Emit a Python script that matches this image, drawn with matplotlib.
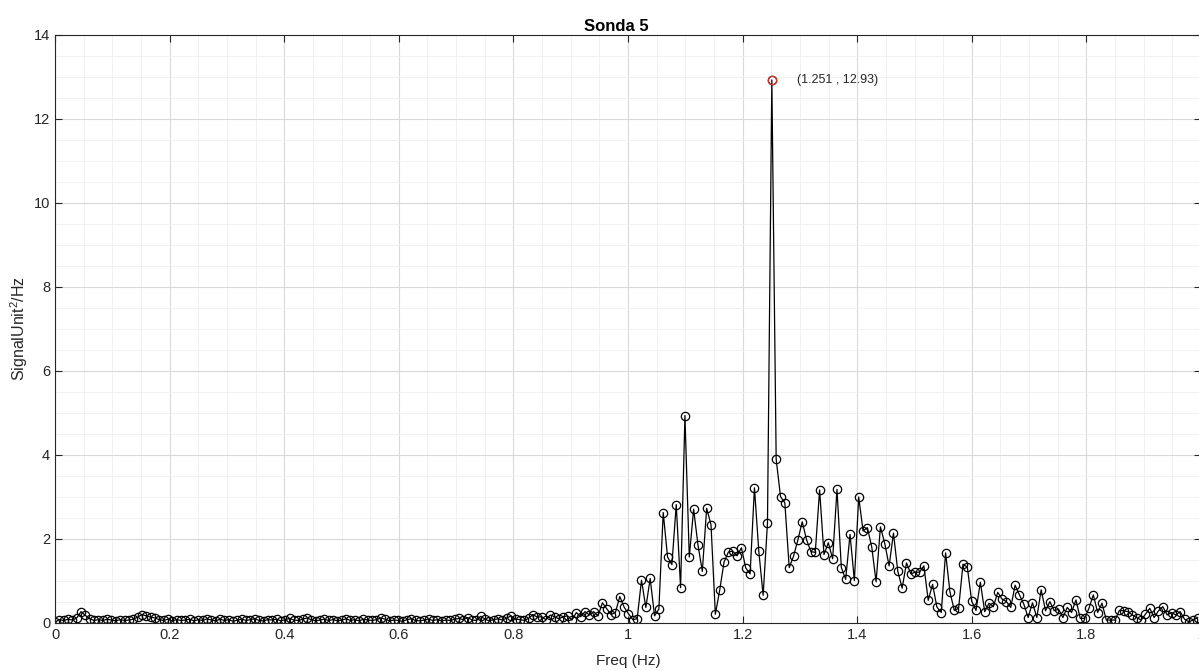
"""Sonda 5 power spectrum, MATLAB-style periodogram look (grid on, open circle markers)."""
import numpy as np
import matplotlib
matplotlib.use("Agg")
import matplotlib.pyplot as plt
from matplotlib.ticker import MultipleLocator, FuncFormatter

plt.rcParams["font.family"] = ["Liberation Sans", "DejaVu Sans"]
plt.rcParams["mathtext.default"] = "regular"

# frequency resolution of the spectrum (peak bin 165 sits at 1.251 Hz)
DF = 1.251 / 165
PEAK_F, PEAK_P = 1.251, 12.93

# PSD values read bin by bin off the reference [SignalUnit^2/Hz]
PSD_LOW = [  # bins 0-125, 0 .. ~0.95 Hz
    0.02, 0.08, 0.06, 0.09, 0.07, 0.12, 0.27, 0.18, 0.10, 0.06,
    0.08, 0.06, 0.09, 0.07, 0.05, 0.08, 0.06, 0.07, 0.09, 0.14,
    0.20, 0.17, 0.14, 0.12, 0.08, 0.06, 0.09, 0.05, 0.08, 0.06,
    0.07, 0.09, 0.05, 0.08, 0.06, 0.10, 0.07, 0.05, 0.09, 0.06,
    0.08, 0.04, 0.07, 0.09, 0.06, 0.08, 0.10, 0.06, 0.05, 0.08,
    0.07, 0.09, 0.05, 0.08, 0.11, 0.07, 0.06, 0.09, 0.12, 0.08,
    0.05, 0.07, 0.09, 0.06, 0.08, 0.05, 0.07, 0.10, 0.06, 0.08,
    0.05, 0.09, 0.07, 0.06, 0.08, 0.12, 0.09, 0.05, 0.07, 0.06,
    0.04, 0.08, 0.10, 0.06, 0.05, 0.07, 0.09, 0.06, 0.08, 0.05,
    0.07, 0.06, 0.09, 0.11, 0.08, 0.13, 0.07, 0.06, 0.16, 0.09,
    0.05, 0.08, 0.10, 0.07, 0.12, 0.17, 0.09, 0.08, 0.06, 0.11,
    0.20, 0.14, 0.15, 0.08, 0.19, 0.15, 0.10, 0.15, 0.17, 0.07,
    0.25, 0.15, 0.27, 0.19, 0.27, 0.17,
]
PSD_MID = [  # bins 126-165, up to the main peak
    0.48, 0.34, 0.20, 0.25, 0.63, 0.38, 0.22, 0.08, 0.10, 1.02,
    0.37, 1.06, 0.17, 0.33, 2.63, 1.57, 1.39, 2.82, 0.84, 4.94,
    1.57, 2.71, 1.86, 1.23, 2.73, 2.34, 0.21, 0.78, 1.45, 1.69,
    1.71, 1.60, 1.79, 1.31, 1.17, 3.22, 1.71, 0.66, 2.38, 12.93,
]
PSD_HIGH = [  # bins 166-213
    3.90, 3.01, 2.86, 1.32, 1.59, 1.98, 2.41, 1.98, 1.70, 1.68,
    3.17, 1.63, 1.91, 1.53, 3.18, 1.32, 1.04, 2.11, 1.01, 3.00,
    2.19, 2.27, 1.81, 0.98, 2.29, 1.89, 1.36, 2.14, 1.23, 0.83,
    1.43, 1.17, 1.21, 1.21, 1.36, 0.54, 0.92, 0.38, 0.25, 1.67,
    0.74, 0.30, 0.35, 1.40, 1.33, 0.52, 0.30, 0.97,
]
PSD_TAIL = [  # bins 214-263, up to 2 Hz
    0.27, 0.47, 0.39, 0.73, 0.57, 0.51, 0.37, 0.90, 0.67, 0.45,
    0.13, 0.48, 0.13, 0.79, 0.29, 0.51, 0.29, 0.33, 0.13, 0.37,
    0.25, 0.55, 0.11, 0.11, 0.35, 0.67, 0.25, 0.47, 0.07, 0.07,
    0.07, 0.30, 0.29, 0.27, 0.19, 0.13, 0.07, 0.21, 0.35, 0.13,
    0.29, 0.39, 0.19, 0.25, 0.19, 0.27, 0.09, 0.03, 0.07, 0.13,
]

INK = "#262626"


def main():
    psd = np.array(PSD_LOW + PSD_MID + PSD_HIGH + PSD_TAIL)
    freq = np.arange(len(psd)) * DF

    fig = plt.figure(figsize=(11.99, 6.70), dpi=100)
    ax = fig.add_axes([55 / 1199, 47 / 670, 1146 / 1199, 588 / 670])   # right edge just past the canvas

    ax.plot(freq, psd, "-o", color="black", lw=0.9, ms=6, mfc="none", mew=0.9)
    ax.plot([PEAK_F], [PEAK_P], "o", color="#e0302e", ms=6, mfc="none", mew=0.9)
    ax.text(PEAK_F + 0.044, PEAK_P, "(1.251 , 12.93)", fontsize=9, color=INK, va="center")

    ax.set_xlim(0, 2); ax.set_ylim(0, 14)
    ax.xaxis.set_major_locator(MultipleLocator(0.2)); ax.xaxis.set_minor_locator(MultipleLocator(0.05))
    ax.yaxis.set_major_locator(MultipleLocator(2)); ax.yaxis.set_minor_locator(MultipleLocator(0.5))
    ax.xaxis.set_major_formatter(FuncFormatter(lambda v, _: f"{v:g}"))
    ax.grid(which="major", color="#d9d9d9", lw=0.8)
    ax.grid(which="minor", color="#efefef", lw=0.6)
    ax.set_axisbelow(True)
    ax.tick_params(which="major", direction="in", length=5, width=0.8, top=True, right=True,
                   labelsize=10.5, colors=INK)
    ax.tick_params(which="minor", length=0)
    for sp in ax.spines.values():
        sp.set_color(INK); sp.set_linewidth(0.8)

    ax.set_xlabel("Freq (Hz)", fontsize=11, color=INK, labelpad=9)
    ax.set_ylabel("SignalUnit$^2$/Hz", fontsize=11.5, color=INK, labelpad=3)
    ax.set_title("Sonda 5", fontsize=12, fontweight="bold", color="black", pad=3, x=0.49)

    fig.savefig("out.png", dpi=100)
    plt.close(fig)


if __name__ == "__main__":
    main()
